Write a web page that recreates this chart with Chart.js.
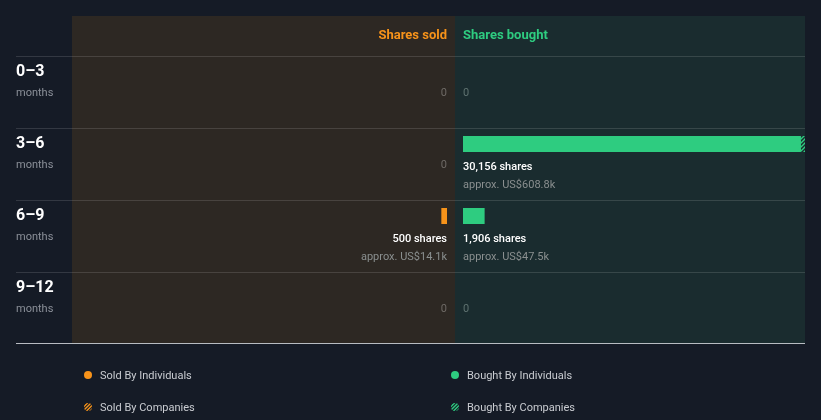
<!DOCTYPE html>
<html><head><meta charset="utf-8">
<script src="https://cdn.jsdelivr.net/npm/chart.js@4.4.1/dist/chart.umd.min.js"></script>
<style>html,body{margin:0;padding:0;background:#151b26;}canvas{display:block}</style>
</head><body><canvas id="c" width="821" height="420"></canvas>
<script>
// ---- data ----
const periods = ['0–3', '3–6', '6–9', '9–12'];
const periodUnit = 'months';
const soldByIndividuals = [0, 0, 500, 0];
const soldByCompanies = [0, 0, 0, 0];
const boughtByIndividuals = [0, 29800, 1906, 0];
const boughtByCompanies = [0, 356, 0, 0];
const soldValueK = [0, 0, 14.1, 0];      // approx. US$ thousands
const boughtValueK = [0, 608.8, 47.5, 0];
const headers = ['Shares sold', 'Shares bought'];
const seriesLabels = ['Sold By Individuals', 'Sold By Companies', 'Bought By Individuals', 'Bought By Companies'];

// ---- style ----
const BG = '#151b26', SOLD_BG = '#2d2823', BOUGHT_BG = '#1a2c2f';
const ORANGE = '#f7931a', GREEN = '#2ecc80';
const FONT = 'Roboto, "Noto Sans", sans-serif';

function hatch(color, bg) {
  const c = document.createElement('canvas'); c.width = 4; c.height = 4;
  const x = c.getContext('2d');
  if (bg) { x.fillStyle = bg; x.fillRect(0, 0, 4, 4); }
  x.strokeStyle = color; x.lineWidth = 1.4;
  x.beginPath(); x.moveTo(-1, 5); x.lineTo(5, -1); x.moveTo(-1, 1); x.lineTo(1, -1); x.moveTo(3, 5); x.lineTo(5, 3); x.stroke();
  return document.getElementById('c').getContext('2d').createPattern(c, 'repeat');
}

const totalsSold = periods.map((_, i) => soldByIndividuals[i] + soldByCompanies[i]);
const totalsBought = periods.map((_, i) => boughtByIndividuals[i] + boughtByCompanies[i]);
const maxTotal = Math.max(...totalsSold, ...totalsBought);

// layout (pixels)
const PLOT_L = 72, PLOT_R = 805, SOLD_ZERO = 447, BOUGHT_ZERO = 463;
const ppu = (PLOT_R - BOUGHT_ZERO) / maxTotal;

const fmt = n => n.toLocaleString('en-US');
const nz = arr => arr.map(v => (v ? v : null));

const drawPlugin = {
  id: 'insider',
  beforeDatasetsDraw(chart) {
    const ctx = chart.ctx, y = chart.scales.y, xs = chart.scales.xS;
    const c = periods.map((_, i) => y.getPixelForValue(i));
    const top = c[0] - 56, bottom = c[c.length - 1] + 56;
    const mid = (xs.getPixelForValue(0) + chart.scales.xB.getPixelForValue(0)) / 2;
    ctx.save();
    ctx.fillStyle = BG; ctx.fillRect(0, 0, chart.width, chart.height);
    ctx.fillStyle = SOLD_BG; ctx.fillRect(PLOT_L, top, mid - PLOT_L, bottom - top);
    ctx.fillStyle = BOUGHT_BG; ctx.fillRect(mid, top, PLOT_R - mid, bottom - top);
    // grid lines
    ctx.fillStyle = 'rgba(255,255,255,0.13)';
    c.forEach(ci => ctx.fillRect(16, Math.round(ci - 16), PLOT_R - 16, 1));
    ctx.fillStyle = '#b8bcc2';
    ctx.fillRect(16, bottom - 1, PLOT_R - 16, 1);
    // headers
    ctx.font = 'bold 13px ' + FONT; ctx.textBaseline = 'middle';
    ctx.fillStyle = ORANGE; ctx.textAlign = 'right'; ctx.fillText(headers[0], xs.getPixelForValue(0), c[0] - 36);
    ctx.fillStyle = GREEN; ctx.textAlign = 'left'; ctx.fillText(headers[1], chart.scales.xB.getPixelForValue(0), c[0] - 36);
    // row labels
    periods.forEach((p, i) => {
      ctx.textAlign = 'left';
      ctx.fillStyle = '#ffffff'; ctx.font = 'bold 16px ' + FONT; ctx.fillText(p, 16, c[i]);
      ctx.fillStyle = '#8b9099'; ctx.font = '11px ' + FONT; ctx.fillText(periodUnit, 16, c[i] + 21);
    });
    ctx.restore();
  },
  afterDatasetsDraw(chart) {
    const ctx = chart.ctx, y = chart.scales.y;
    const x0s = chart.scales.xS.getPixelForValue(0), x0b = chart.scales.xB.getPixelForValue(0);
    ctx.save(); ctx.textBaseline = 'middle';
    periods.forEach((_, i) => {
      const ci = y.getPixelForValue(i);
      [[totalsSold[i], soldValueK[i], x0s, 'right', '#6e6a66'], [totalsBought[i], boughtValueK[i], x0b, 'left', '#5f7270']].forEach(([t, v, x, al, zc]) => {
        ctx.textAlign = al;
        if (!t) { ctx.fillStyle = zc; ctx.font = '11px ' + FONT; ctx.fillText('0', x, ci + 21); return; }
        ctx.fillStyle = '#ffffff'; ctx.font = '500 11px ' + FONT; ctx.fillText(fmt(t) + ' shares', x, ci + 23);
        ctx.fillStyle = '#8a8f8f'; ctx.font = '11px ' + FONT; ctx.fillText('approx. US$' + v.toFixed(1) + 'k', x, ci + 41);
      });
    });
    // legend
    const ds = chart.data.datasets;
    const pos = [[88, 376], [88, 408], [455, 376], [455, 408]];
    ds.forEach((d, k) => {
      const [lx, ly] = pos[k];
      ctx.save();
      ctx.beginPath(); ctx.arc(lx, ly - 1, 4, 0, Math.PI * 2);
      if (d.companies) {
        ctx.clip();
        ctx.strokeStyle = d.baseColor; ctx.lineWidth = 1.4;
        ctx.beginPath();
        for (let s = -8; s <= 8; s += 3.5) { ctx.moveTo(lx + s - 5, ly + 4); ctx.lineTo(lx + s + 5, ly - 6); }
        ctx.stroke();
      } else { ctx.fillStyle = d.baseColor; ctx.fill(); }
      ctx.restore();
      ctx.fillStyle = '#c9ccd1'; ctx.font = '11px ' + FONT; ctx.textAlign = 'left';
      ctx.fillText(d.label, lx + 12, ly);
    });
    ctx.restore();
  }
};

const common = { barThickness: 16, grouped: false, borderWidth: 0, borderSkipped: false, inflateAmount: 0 };
new Chart(document.getElementById('c'), {
  type: 'bar',
  data: {
    labels: periods,
    datasets: [
      { ...common, label: seriesLabels[0], data: nz(soldByIndividuals), xAxisID: 'xS', backgroundColor: ORANGE, baseColor: ORANGE },
      { ...common, label: seriesLabels[1], data: nz(soldByCompanies), xAxisID: 'xS', backgroundColor: hatch(ORANGE), baseColor: ORANGE, companies: true },
      { ...common, label: seriesLabels[2], data: nz(boughtByIndividuals), xAxisID: 'xB', backgroundColor: GREEN, baseColor: GREEN },
      { ...common, label: seriesLabels[3], data: nz(boughtByCompanies), xAxisID: 'xB', backgroundColor: hatch(GREEN), baseColor: GREEN, companies: true }
    ]
  },
  options: {
    indexAxis: 'y', responsive: false, animation: false,
    layout: { padding: { left: PLOT_L, right: 821 - PLOT_R, top: 36, bottom: 96 } },
    plugins: { legend: { display: false }, tooltip: { enabled: false } },
    scales: {
      y: { type: 'category', display: false, stacked: true },
      xS: { type: 'linear', display: false, stacked: true, reverse: true,
            min: -(PLOT_R - SOLD_ZERO) / ppu, max: (SOLD_ZERO - PLOT_L) / ppu },
      xB: { type: 'linear', display: false, stacked: true,
            min: -(BOUGHT_ZERO - PLOT_L) / ppu, max: (PLOT_R - BOUGHT_ZERO) / ppu }
    }
  },
  plugins: [drawPlugin]
});
</script></body></html>
